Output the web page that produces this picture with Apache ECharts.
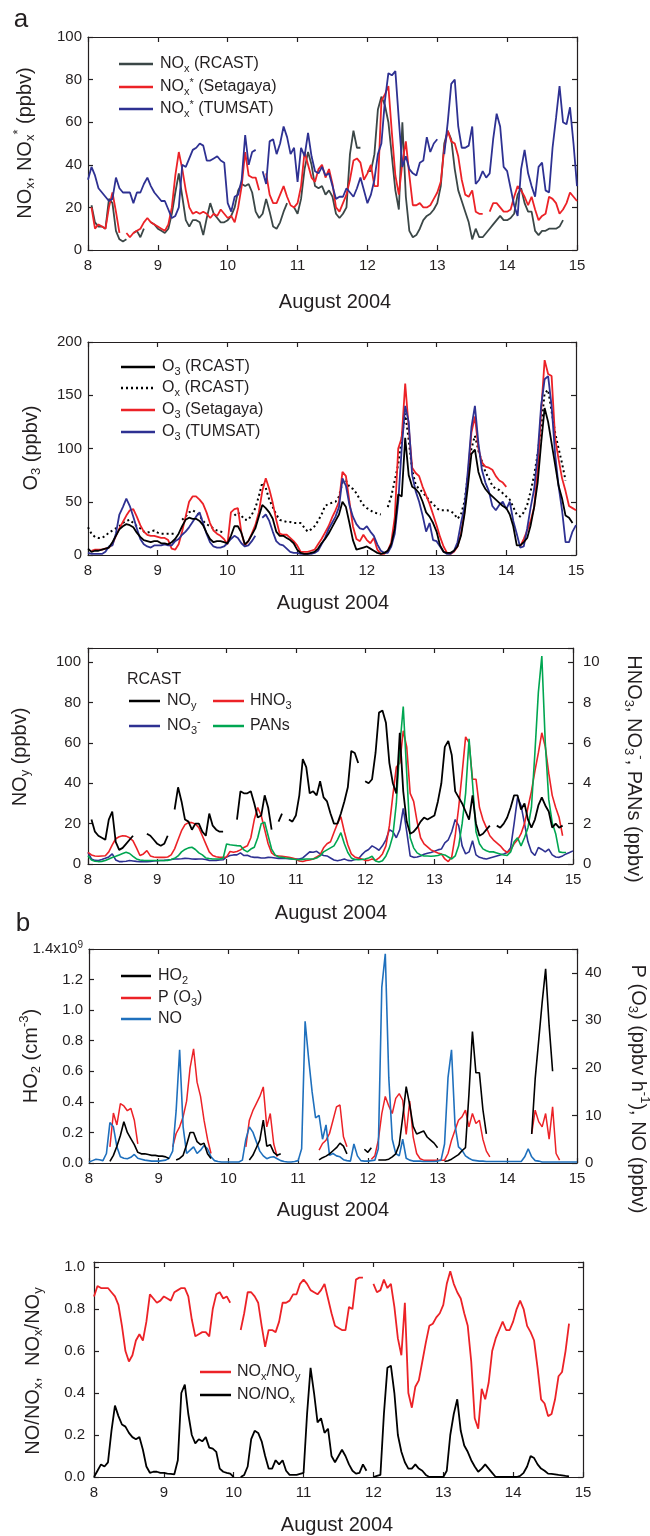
<!DOCTYPE html>
<html><head><meta charset="utf-8">
<script src="https://cdn.jsdelivr.net/npm/echarts@6/dist/echarts.min.js"></script>
<style>html,body{margin:0;padding:0;background:#fff}#c{width:650px;height:1536px}</style>
</head><body><div id="c"></div>
<script>
// Sampling: every 0.05 day (1.2 h) from Aug 8.00 to Aug 15.00 -> 141 samples per series
const dayTicks = [8, 9, 10, 11, 12, 13, 14, 15];

// ---- Panel a1: NOx (ppbv)
const noxRcast = [
 null,21,13,11,11,10,24,22,9,5,4,5,null,8,9,6,10,null,13,12,
 10,9,8,10,17,27,36,25,14,11,14,14,13,7,15,22,17,15,13,13,
 14,16,20,28,31,30,31,27,18,15,17,24,18,11,10,13,18,22,null,20,
 17,24,38,46,40,30,29,30,26,28,25,17,15,17,20,45,56,48,48,null,
 37,37,45,66,72,68,60,44,28,19,60,25,9,6,7,10,14,16,17,19,
 22,30,50,56,52,38,28,23,18,13,5,10,6,6,8,10,12,14,16,14,
 14,15,17,26,29,22,18,18,9,7,9,9,10,10,10,11,14,null,null,null,
 null];
const noxSetagaya = [
 null,20,10,12,11,10,20,27,18,8,null,8,6,8,9,10,13,15,13,12,
 11,10,9,12,20,35,46,38,28,20,17,18,17,18,17,15,17,16,19,17,
 15,16,13,20,30,46,35,34,34,28,null,36,26,22,22,26,30,25,21,20,
 22,30,46,40,34,32,38,40,34,38,31,20,18,22,26,33,42,43,41,33,
 36,40,30,30,70,73,77,55,35,26,41,51,35,21,21,22,20,20,21,24,
 27,32,48,56,51,50,44,33,26,25,28,18,17,17,null,18,22,22,20,18,
 18,19,25,30,28,25,21,25,19,14,16,17,25,24,22,17,19,22,27,25,
 23];
const noxTumsat = [
 33,39,35,29,27,25,23,24,34,29,27,27,27,22,27,27,31,34,30,27,
 25,23,23,19,15,16,20,40,39,43,47,48,50,49,42,42,43,44,42,41,
 22,18,25,26,33,54,40,46,47,null,37,31,51,52,45,50,58,53,45,48,
 32,48,44,55,44,37,36,39,35,36,30,24,25,25,29,27,25,29,34,28,
 22,26,33,45,50,70,83,82,84,61,39,44,38,36,35,41,42,53,46,50,
 52,null,45,60,78,80,58,48,48,49,58,31,33,37,34,36,52,64,58,39,
 37,29,21,16,38,47,36,30,25,39,41,28,27,48,62,77,60,59,67,50,
 30];

// ---- Panel a2: O3 (ppbv)
const o3Rcast = [
 6,3,4,4,5,6,7,12,18,24,27,29,28,26,21,17,14,13,12,13,
 13,11,11,10,12,15,20,27,33,35,34,34,32,28,21,15,12,13,13,12,
 11,18,27,27,21,10,13,19,25,36,47,44,40,34,22,18,18,16,14,11,
 5,2,1,1,2,3,6,11,15,20,26,32,38,50,45,30,14,5,6,7,
 8,6,4,2,1,2,4,10,25,57,55,110,75,64,62,58,50,40,36,30,
 22,9,3,2,2,4,8,18,38,65,95,99,78,68,62,58,55,52,49,46,
 44,38,27,9,9,12,16,28,45,68,105,138,125,105,85,65,53,37,35,30,
 null];
const oxRcast = [
 26,20,17,16,16,18,21,23,25,27,30,32,33,30,27,25,22,21,22,23,
 21,20,20,20,20,20,null,33,36,40,42,40,37,32,29,27,25,23,22,21,
 null,null,37,40,37,33,33,38,44,55,68,63,52,45,38,33,32,31,31,30,
 30,30,26,22,24,27,32,38,46,48,49,50,55,68,70,64,62,58,52,47,
 44,42,40,39,38,null,45,55,70,85,110,133,108,80,66,62,59,55,51,48,
 44,42,42,42,41,39,34,38,50,75,100,112,98,88,78,72,65,62,61,58,
 55,52,45,38,36,40,47,60,75,95,120,152,155,135,115,100,86,70,null,null,
 null];
const o3Setagaya = [
 null,4,5,5,5,6,7,10,18,25,31,37,42,43,36,28,22,19,18,18,
 17,16,16,14,6,5,10,22,36,50,55,55,52,48,40,30,23,20,18,15,
 10,40,43,44,21,9,13,20,28,40,60,72,62,49,33,20,19,19,16,13,
 9,3,3,3,4,5,10,15,21,27,35,42,50,78,74,50,27,15,13,19,
 14,11,16,5,1,1,4,12,35,100,110,161,120,82,77,74,64,56,48,38,
 28,17,8,2,1,3,8,20,40,75,115,130,100,87,83,82,80,74,70,68,
 64,null,null,null,8,15,23,32,45,80,135,183,170,168,110,90,72,60,46,44,
 42];
const o3Tumsat = [
 2,1,1,1,1,3,8,9,20,38,45,53,46,36,25,15,10,8,7,9,
 9,9,10,9,9,13,15,19,22,26,31,36,40,30,20,12,8,7,7,8,
 11,15,18,16,11,8,9,13,18,null,35,38,32,22,13,10,9,6,3,2,
 2,1,1,1,1,2,4,10,16,24,30,36,45,72,65,47,36,29,25,24,
 27,22,18,10,4,2,2,8,20,50,100,140,125,75,60,50,37,22,30,14,
 13,8,3,1,1,4,12,30,45,80,120,140,105,80,68,60,46,42,47,50,
 43,50,32,20,7,8,25,45,62,95,140,165,168,140,95,65,42,12,12,22,
 28];

// ---- Panel a3: NOy (ppbv, left) ; HNO3, NO3-, PANs (ppbv, right)
const noy = [
 null,22,16,14,13,12,22,26,11,7,8,10,12,14,null,null,null,15,14,12,
 10,9,10,14,null,27,38,31,22,21,17,20,20,16,14,25,19,17,16,16,
 null,null,null,22,36,35,35,36,30,23,24,34,28,17,null,21,25,null,22,21,
 24,34,52,48,35,36,34,41,33,31,25,20,20,25,31,38,56,55,50,null,
 41,40,42,55,75,76,70,50,40,35,65,36,21,15,16,18,21,23,22,23,
 24,31,40,58,61,54,36,33,30,26,22,34,20,14,15,17,19,null,19,18,
 20,23,28,34,34,27,30,22,18,22,29,33,29,26,18,20,18,19,null,null,
 null];
const hno3 = [
 0.58,0.45,0.40,0.38,0.40,0.41,0.6,0.95,1.25,1.35,1.4,1.38,1.3,1.15,0.8,0.42,0.5,0.66,0.4,0.35,
 0.33,0.33,0.33,0.35,0.45,0.75,1.2,1.65,1.95,2.05,2.05,1.98,1.8,1.4,1.0,0.6,0.42,0.36,0.33,0.33,
 0.35,0.62,0.58,0.62,0.7,0.82,0.9,1.3,2.2,2.8,2.4,1.7,1.0,0.55,0.42,0.4,0.38,0.36,0.33,0.3,
 0.25,0.15,0.12,0.17,0.2,0.25,0.35,0.45,0.8,1.0,1.1,1.56,2.0,2.34,1.6,0.95,0.5,0.35,0.3,0.25,
 0.18,0.18,0.25,0.18,0.3,0.5,0.9,1.9,3.4,4.8,5.0,6.6,5.8,3.5,3.1,2.1,1.3,1.0,0.85,0.7,
 0.62,0.55,0.5,0.25,0.12,0.35,1.4,2.8,4.5,6.3,6.0,4.2,4.2,2.8,2.2,1.8,1.4,1.2,1.05,0.9,
 0.7,0.57,0.7,1.0,1.2,1.5,2.0,2.8,3.6,4.6,5.5,6.5,5.8,4.5,3.4,2.8,2.3,1.4,null,null,
 null];
const no3 = [
 0.58,0.25,0.18,0.17,0.22,0.28,0.35,0.5,0.2,0.12,0.12,0.14,0.17,0.15,0.13,0.12,0.12,0.12,0.13,0.15,
 0.16,0.17,0.18,0.2,0.22,0.25,0.25,0.26,0.28,0.27,0.25,0.24,0.25,0.25,0.22,0.18,0.17,0.18,0.2,0.21,
 0.35,0.42,0.45,0.45,0.55,0.42,0.43,0.36,0.33,0.33,0.3,0.3,0.33,0.32,0.3,0.28,0.28,0.27,0.26,0.25,
 0.25,0.25,0.3,0.45,0.6,0.58,0.63,0.5,0.42,0.4,0.3,0.2,0.16,0.2,0.25,0.18,0.16,0.22,0.25,0.45,
 0.62,0.72,0.9,0.8,0.68,0.9,1.2,1.7,1.6,1.3,1.7,2.75,1.6,0.4,0.33,0.35,0.4,0.48,0.53,0.57,
 0.63,0.7,0.74,1.05,1.2,1.6,2.2,1.9,0.9,0.5,0.6,1.15,0.45,0.33,0.28,0.25,0.3,0.35,0.4,0.45,
 0.5,0.57,0.8,2.0,3.3,2.9,2.0,1.1,0.6,0.42,0.82,0.72,0.6,0.74,0.45,0.35,0.33,0.4,0.5,0.57,
 0.65];
const pans = [
 0.41,0.2,0.14,0.12,0.13,0.17,0.25,0.32,0.38,0.45,0.52,0.58,0.52,0.38,0.25,0.2,0.18,0.17,0.17,0.17,
 0.17,0.17,0.17,0.18,0.22,0.28,0.4,0.6,0.72,0.8,0.83,0.72,0.55,0.45,0.3,0.27,0.25,0.25,0.25,0.28,
 0.99,0.95,0.93,0.91,0.9,0.7,0.6,0.74,0.83,1.3,2.0,2.07,1.4,0.74,0.45,0.35,0.33,0.3,0.28,0.25,
 0.22,0.21,0.23,0.25,0.25,0.25,0.3,0.4,0.6,0.7,0.8,0.9,1.2,1.55,1.0,0.57,0.3,0.22,0.21,0.22,
 0.25,0.3,0.38,0.15,0.1,0.16,0.4,0.8,1.4,3.0,5.8,7.8,4.5,1.3,0.8,0.55,0.45,0.4,0.4,0.38,
 0.4,0.42,0.48,0.45,0.35,0.25,0.4,0.9,2.0,3.5,6.2,4.0,1.6,1.0,0.75,0.66,0.6,0.6,0.55,0.5,
 0.45,0.42,0.6,1.1,1.3,0.9,1.3,1.8,2.8,5.5,8.5,10.3,6.0,3.2,2.05,1.5,0.6,0.57,0.57,null,
 null];

// ---- Panel b1: HO2 (1e9 cm-3, left) ; P(O3) (ppbv/h) and NO (ppbv), right
const ho2 = [
 null,null,null,null,null,null,0.01,0.05,0.11,0.18,0.27,0.2,0.16,0.12,0.07,0.06,0.06,0.055,0.05,0.05,
 0.045,0.045,0.04,0.03,null,0.02,0.03,0.05,0.12,0.2,0.2,0.14,0.12,0.13,0.06,0.03,null,null,null,null,
 null,null,null,null,null,null,0.02,0.05,0.1,0.15,0.28,0.11,0.12,0.07,0.05,0.06,null,null,null,null,
 null,null,null,null,null,null,0.02,0.035,0.045,0.06,0.08,0.1,0.13,0.11,0.06,null,null,null,null,0.09,
 0.07,0.1,null,0.02,0.02,0.02,0.025,0.04,0.06,0.12,0.3,0.5,0.38,0.24,0.19,0.2,0.21,0.17,0.15,0.13,
 0.1,null,0.01,0.015,0.025,0.04,0.055,0.08,0.1,0.45,0.86,0.59,0.59,0.35,0.19,null,null,null,null,null,
 null,null,null,null,null,null,null,0.19,0.55,0.8,1.05,1.27,0.9,0.6,null,null,null,null,null,null,
 null];
const pO3 = [
 null,null,null,null,null,null,3.4,10.5,8,12.5,12,11,11.5,9,4,null,null,null,null,null,
 null,null,null,null,3.4,6.2,7.6,9.7,13,20,24,17,14,9,5,2,null,null,null,null,
 null,null,null,null,null,3.4,9,11,12.5,14,16,7.6,10.4,4,1.3,null,null,null,null,null,
 null,null,null,null,null,null,2.7,4.1,4.8,6.2,9,11.8,12.2,5.5,3.4,null,null,null,null,null,
 null,0.8,1.5,4.8,10.4,14,12,10.4,13.6,14.6,13.2,6,13,5.5,2,0.9,0.6,0.6,0.6,0.6,
 0.6,0.6,0.6,2,4.8,6.9,9,9.7,11.1,7.6,10.4,8.3,9,5,2.5,1.3,null,null,null,null,
 null,null,null,null,null,null,null,6.2,11.1,8.7,7.6,10.4,5,11.8,2,0.6,null,null,null,null,
 null];
const no = [
 0.2,0.5,0.8,0.7,0.5,2.0,8.5,7.6,3.4,1.3,1.0,0.9,1.2,1.8,1.0,0.8,0.6,0.5,0.4,0.4,
 0.4,0.5,0.6,1.0,2.5,11,23.8,7.6,2.0,2.7,3.4,2.0,2.7,3.7,3.0,1.3,0.5,0.3,0.2,0.2,
 0.2,0.2,0.2,0.2,0.6,5.0,7.6,6.5,4.5,2.5,1.5,0.9,1.2,1.3,0.9,0.5,0.3,0.2,0.2,0.3,
 0.5,3.0,29.8,22.0,15.0,9.5,10.0,5.0,8.0,1.6,2.0,1.5,1.3,0.7,0.5,0.4,4.0,1.5,0.5,0.4,
 0.4,0.5,0.6,3.0,37.0,44.0,18.0,5.0,2.0,1.5,5.0,1.0,0.6,0.4,0.4,0.4,0.3,0.3,0.3,0.3,
 0.4,0.6,4.0,18.0,23.8,8.0,3.4,2.7,1.5,1.0,0.6,0.5,0.4,0.4,0.3,0.3,0.3,0.3,0.3,0.3,
 0.3,0.3,0.3,0.3,0.3,1.3,3.0,1.3,0.5,0.4,0.2,0.2,0.2,0.2,0.2,0.2,0.2,0.2,0.2,0.2,
 0.2];

// ---- Panel b2: ratios
const noxNoy = [
 0.86,0.91,0.9,0.9,0.9,0.88,0.86,0.82,0.72,0.6,0.55,0.58,0.65,0.68,0.65,0.74,0.87,0.85,0.83,0.84,
 0.86,0.85,0.84,0.88,0.89,0.9,0.9,0.86,0.75,0.67,0.68,0.69,0.69,0.67,0.8,0.87,0.88,0.85,0.86,0.83,
 null,null,0.7,0.78,0.88,0.88,0.86,0.83,0.72,0.62,0.7,0.7,0.69,0.74,0.83,0.83,0.84,0.87,0.87,0.92,
 0.94,0.92,0.89,0.88,0.87,0.89,0.92,0.85,0.78,0.72,0.71,0.7,0.7,0.81,0.8,0.94,0.95,0.95,null,null,
 0.92,0.88,0.89,0.94,0.9,0.92,0.81,0.66,0.58,0.83,0.4,0.33,0.43,0.46,0.55,0.64,0.72,0.73,0.76,0.78,
 0.82,0.92,0.98,0.92,0.88,0.85,0.78,0.72,0.55,0.28,0.23,0.42,0.37,0.45,0.6,0.66,0.7,0.74,0.7,0.7,
 0.74,0.8,0.84,0.8,0.72,0.69,0.65,0.52,0.37,0.35,0.29,0.3,0.37,0.48,0.5,0.6,0.73,null,null,null,
 null];
const noNox = [
 0.0,0.03,0.06,0.05,0.07,0.22,0.34,0.29,0.25,0.24,0.21,0.19,0.18,0.19,0.13,0.05,0.02,0.025,0.025,0.02,
 0.02,0.016,0.015,0.013,0.08,0.4,0.44,0.3,0.2,0.16,0.18,0.17,0.19,0.14,0.135,0.12,0.04,0.025,0.02,0.016,
 0.0,null,0.0,0.01,0.05,0.18,0.22,0.21,0.17,0.1,0.04,0.04,0.08,0.06,0.08,0.03,0.01,0.01,0.01,0.015,
 0.02,0.3,0.52,0.4,0.26,0.28,0.21,0.23,0.1,0.07,0.1,0.13,0.1,0.06,0.03,0.016,0.02,0.06,0.03,null,
 0.0,0.005,0.01,0.3,0.52,0.53,0.4,0.2,0.12,0.07,0.04,0.04,0.06,0.04,0.03,0.01,0.0,0.0,0.0,0.0,
 0.0,0.03,0.2,0.3,0.37,0.22,0.15,0.12,0.08,0.05,0.025,0.04,0.06,0.04,0.02,0.0,0.0,0.0,0.0,0.0,
 0.0,0.0,0.005,0.02,0.05,0.1,0.09,0.06,0.04,0.03,0.016,0.015,0.013,0.01,0.008,0.005,0.003,null,null,null,
 null];

// ---------------------------------------------------------------
const T = noxRcast.map((_, i) => Math.round((8 + i * 0.05) * 100) / 100);
const pts = arr => arr.map((v, i) => [T[i], v]);

const FF = '"Liberation Sans", Arial, Helvetica, sans-serif';
const INK = '#231f20';
const RED = '#ec2227', NAVY = '#2e3192', GRAY = '#3b4747', GREEN = '#00a651', BLUE = '#1f70bd';

const grids = [
  {left: 88, top: 37, width: 489, height: 213},
  {left: 88, top: 342, width: 488, height: 213},
  {left: 88, top: 648, width: 485, height: 216},
  {left: 89, top: 949, width: 488, height: 214},
  {left: 94, top: 1262, width: 489, height: 215}
];

const axLine = {show: true, onZero: false, lineStyle: {color: INK, width: 1.2}};
const axTick = {show: true, inside: true, length: 5, lineStyle: {color: INK, width: 1.2}};
function xAx(g, pos, show) {
  return {type: 'value', gridIndex: g, position: pos, min: dayTicks[0], max: dayTicks[dayTicks.length - 1], interval: 1,
    axisLine: axLine, axisTick: axTick, splitLine: {show: false},
    axisLabel: {show: show, margin: 8, color: INK, fontSize: 15, fontFamily: FF}};
}
function yAx(g, pos, min, max, interval, label) {
  return {type: 'value', gridIndex: g, position: pos, min: min, max: max, interval: interval,
    axisLine: axLine, axisTick: axTick, splitLine: {show: false},
    axisLabel: Object.assign({show: !!label, color: INK, fontSize: 15, fontFamily: FF, margin: 6, showMaxLabel: true, hideOverlap: false}, label || {})};
}
const xAxis = [], yAxis = [];
for (let g = 0; g < 5; g++) { xAxis.push(xAx(g, 'bottom', true)); xAxis.push(xAx(g, 'top', false)); }
yAxis.push(yAx(0, 'left', 0, 100, 20, {}));
yAxis.push(yAx(0, 'right', 0, 100, 20, null));
yAxis.push(yAx(1, 'left', 0, 200, 50, {}));
yAxis.push(yAx(1, 'right', 0, 200, 50, null));
yAxis.push(yAx(2, 'left', 0, 107, 20, {margin: 7, formatter: v => v > 100.5 ? '' : String(v)}));
yAxis.push(yAx(2, 'right', 0, 10.7, 2, {margin: 10, formatter: v => v > 10.05 ? '' : String(Math.round(v))}));
yAxis.push(yAx(3, 'left', 0, 1.4, 0.2, {
  formatter: v => Math.abs(v - 1.4) < 1e-6 ? '{n|1.4x10}{p|9}' : '{n|' + v.toFixed(1) + '}',
  rich: {n: {fontSize: 15, fontFamily: FF, color: INK, lineHeight: 18, verticalAlign: 'middle'},
         p: {fontSize: 10, fontFamily: FF, color: INK, lineHeight: 10, verticalAlign: 'top'}}}));
yAxis.push(yAx(3, 'right', 0, 45, 10, {margin: 8, formatter: v => v > 40.5 ? '' : String(v)}));
yAxis.push(yAx(4, 'left', 0, 1.024, 0.2, {margin: 9, formatter: v => v > 1.001 ? '' : v.toFixed(1)}));
yAxis.push(yAx(4, 'right', 0, 1.024, 0.2, null));

function ln(name, data, g, right, color, width, extra) {
  return Object.assign({type: 'line', name: name, xAxisIndex: 2 * g, yAxisIndex: 2 * g + (right ? 1 : 0),
    data: pts(data), showSymbol: false, symbol: 'none', connectNulls: false,
    lineStyle: {color: color, width: width}, itemStyle: {color: color},
    emphasis: {disabled: true}, animation: false}, extra || {});
}
const series = [
  ln('NOx (RCAST)', noxRcast, 0, false, GRAY, 1.8),
  ln('NOx* (Setagaya)', noxSetagaya, 0, false, RED, 1.8),
  ln('NOx* (TUMSAT)', noxTumsat, 0, false, NAVY, 1.8),
  ln('Ox (RCAST)', oxRcast, 1, false, '#000', 2, {lineStyle: {color: '#000', width: 2, type: [2, 3]}}),
  ln('O3 (Setagaya)', o3Setagaya, 1, false, RED, 1.8),
  ln('O3 (TUMSAT)', o3Tumsat, 1, false, NAVY, 1.8),
  ln('O3 (RCAST)', o3Rcast, 1, false, '#000', 1.8),
  ln('NO3-', no3, 2, true, NAVY, 1.6),
  ln('HNO3', hno3, 2, true, RED, 1.6),
  ln('PANs', pans, 2, true, GREEN, 1.6),
  ln('NOy', noy, 2, false, '#000', 1.8),
  ln('P(O3)', pO3, 3, true, RED, 1.5),
  ln('NO', no, 3, true, BLUE, 1.6),
  ln('HO2', ho2, 3, false, '#000', 1.6),
  ln('NOx/NOy', noxNoy, 4, false, RED, 1.8),
  ln('NO/NOx', noNox, 4, false, '#000', 1.8)
];

// ---- text helpers (graphic)
function rich(fs, H) {
  const sub = Math.round(fs * 0.66);
  return {
    n: {fontSize: fs, fontFamily: FF, lineHeight: H, verticalAlign: 'middle', fill: INK},
    s: {fontSize: sub, fontFamily: FF, lineHeight: sub, verticalAlign: 'top', padding: [Math.round(H / 2 + fs * 0.25 - sub / 2), 0, 0, 0], fill: INK},
    p: {fontSize: sub, fontFamily: FF, lineHeight: sub, verticalAlign: 'top', padding: [Math.max(0, Math.round(H / 2 - fs * 0.32 - sub / 2)), 0, 0, 0], fill: INK}
  };
}
function txt(x, y, text, fs, H, rot, align) {
  return {type: 'text', x: x, y: y, rotation: rot || 0, silent: true,
    style: {text: text, align: align || 'center', verticalAlign: 'middle', rich: rich(fs, H), font: fs + 'px ' + FF, fill: INK}};
}
function lg(x1, x2, y, color, dash) {
  return {type: 'line', silent: true, shape: {x1: x1, y1: y, x2: x2, y2: y},
    style: {stroke: color, lineWidth: 2.5, lineDash: dash || null}};
}
const R90 = Math.PI / 2;
const graphic = [
  // panel letters
  {type: 'text', x: 21, y: 20, silent: true, style: {text: 'a', font: '26px ' + FF, fill: INK, align: 'center', verticalAlign: 'middle'}},
  {type: 'text', x: 23, y: 924, silent: true, style: {text: 'b', font: '26px ' + FF, fill: INK, align: 'center', verticalAlign: 'middle'}},
  // axis titles
  txt(25, 143, '{n|NO}{s|x}{n|, NO}{s|x}{p|*}{n| (ppbv)}', 20, 26, R90),
  txt(335, 302, '{n|August 2004}', 20, 26),
  txt(31, 448, '{n|O}{s|3}{n| (ppbv)}', 20, 26, R90),
  txt(333, 603, '{n|August 2004}', 20, 26),
  txt(20, 757, '{n|NO}{s|y}{n| (ppbv)}', 20, 26, R90),
  txt(634, 769, '{n|HNO}{s|3}{n|, NO}{s|3}{p|-}{n|, PANs (ppbv)}', 20, 26, -R90),
  txt(331, 913, '{n|August 2004}', 20, 26),
  txt(31, 1056, '{n|HO}{s|2}{n| (cm}{p|-3}{n|)}', 20, 26, R90),
  txt(638, 1089, '{n|P (O}{s|3}{n|) (ppbv h}{p|-1}{n|), NO (ppbv)}', 20, 26, -R90),
  txt(333, 1210, '{n|August 2004}', 20, 26),
  txt(33, 1371, '{n|NO/NO}{s|x}{n|,  NO}{s|x}{n|/NO}{s|y}', 20, 26, R90),
  txt(337, 1525, '{n|August 2004}', 20, 26),
  // legends panel a1
  lg(119, 153, 64, GRAY), txt(160, 64, '{n|NO}{s|x}{n| (RCAST)}', 16, 20, 0, 'left'),
  lg(119, 153, 87, RED), txt(160, 87, '{n|NO}{s|x}{p|*}{n| (Setagaya)}', 16, 20, 0, 'left'),
  lg(119, 153, 109, NAVY), txt(160, 109, '{n|NO}{s|x}{p|*}{n| (TUMSAT)}', 16, 20, 0, 'left'),
  // legends panel a2
  lg(121, 155, 367, '#000'), txt(162, 367, '{n|O}{s|3}{n| (RCAST)}', 16, 20, 0, 'left'),
  lg(121, 155, 388, '#000', [2, 3]), txt(162, 388, '{n|O}{s|x}{n| (RCAST)}', 16, 20, 0, 'left'),
  lg(121, 155, 410, RED), txt(162, 410, '{n|O}{s|3}{n| (Setagaya)}', 16, 20, 0, 'left'),
  lg(121, 155, 432, NAVY), txt(162, 432, '{n|O}{s|3}{n| (TUMSAT)}', 16, 20, 0, 'left'),
  // legends panel a3
  txt(127, 680, '{n|RCAST}', 16, 20, 0, 'left'),
  lg(129, 160, 701, '#000'), txt(167, 701, '{n|NO}{s|y}', 16, 20, 0, 'left'),
  lg(213, 244, 701, RED), txt(250, 701, '{n|HNO}{s|3}', 16, 20, 0, 'left'),
  lg(129, 160, 726, NAVY), txt(167, 726, '{n|NO}{s|3}{p|-}', 16, 20, 0, 'left'),
  lg(213, 244, 726, GREEN), txt(250, 726, '{n|PANs}', 16, 20, 0, 'left'),
  // legends panel b1
  lg(121, 151, 976, '#000'), txt(158, 976, '{n|HO}{s|2}', 16, 20, 0, 'left'),
  lg(121, 151, 998, RED), txt(158, 998, '{n|P (O}{s|3}{n|)}', 16, 20, 0, 'left'),
  lg(121, 151, 1019, BLUE), txt(158, 1019, '{n|NO}', 16, 20, 0, 'left'),
  // legends panel b2
  lg(200, 231, 1372, RED), txt(237, 1372, '{n|NO}{s|x}{n|/NO}{s|y}', 16, 20, 0, 'left'),
  lg(200, 231, 1395, '#000'), txt(237, 1395, '{n|NO/NO}{s|x}', 16, 20, 0, 'left')
];

const chart = echarts.init(document.getElementById('c'), null, {renderer: 'canvas'});
chart.setOption({
  animation: false,
  backgroundColor: '#fff',
  textStyle: {fontFamily: FF},
  grid: grids,
  xAxis: xAxis,
  yAxis: yAxis,
  series: series,
  graphic: graphic
});
</script></body></html>
